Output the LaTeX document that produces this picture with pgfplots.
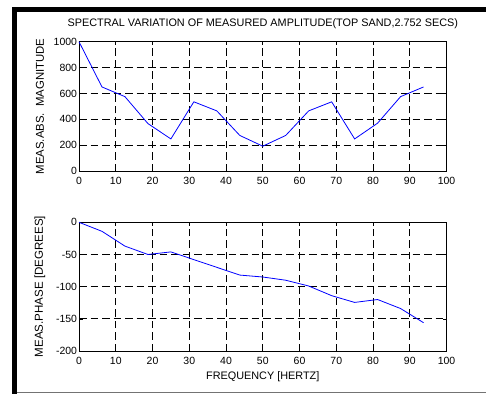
\documentclass[border=0pt]{standalone}
\usepackage{pgfplots}
\pgfplotsset{compat=1.18}
\usepackage{fontspec}
\setmainfont{Liberation Sans}

\pgfplotsset{
  scope panel/.style={
    scale only axis,
    width=367.5bp,
    xmin=0, xmax=100,
    xtick={0,10,...,100},
    tick align=inside,
    major tick length=3.5bp,
    tick style={black, line width=0.6bp},
    axis line style={black, line width=1bp},
    grid=major,
    major grid style={black, line width=0.7bp, dash pattern=on 7.5bp off 4bp},
    /pgf/number format/assume math mode=true,
    /pgf/number format/1000 sep={},
    ticklabel style={font=\fontsize{10.5}{12}\selectfont},
    yticklabel style={inner sep=0pt, xshift=-1.8bp},
    xticklabel style={inner sep=0pt, yshift=-5.5bp},
    label style={font=\fontsize{10.9}{13}\selectfont},
    clip=false,
  },
  spectrum/.style={blue!100!black, line width=0.8bp, mark=none},
}

\begin{document}
\begin{tikzpicture}[x=1bp, y=1bp]
  \useasboundingbox (0,0) rectangle (486,394);
  \fill[white] (0,0) rectangle (486,394);
  % window frame
  \fill[black] (11.7,0) rectangle (17,386.7);
  \fill[black] (11.7,381.7) rectangle (486,386.7);
  \fill[black!55] (17,0.8) rectangle (486,2.2);

  % magnitude panel
  \begin{axis}[scope panel,
      at={(79bp,223bp)}, anchor=south west,
      height=129.3bp,
      ymin=0, ymax=1000,
      ytick={0,200,...,1000},
      title={SPECTRAL VARIATION OF MEASURED AMPLITUDE(TOP SAND,2.752 SECS)},
      title style={font=\fontsize{10.9}{13}\selectfont, at={(axis description cs:0.5,1)}, anchor=base, yshift=9.2bp, inner sep=0pt},
      ylabel={MEAS.ABS.\ \ MAGNITUDE},
      ylabel style={font=\fontsize{11.4}{13}\selectfont, at={(axis description cs:-0.1061,0.5)}, anchor=center, inner sep=0pt},
    ]
    \addplot[spectrum] coordinates {
      (0,1000) (6.25,650) (12.5,575) (18.75,367) (25,248) (31.25,535)
      (37.5,465) (43.75,275) (50,192) (56.25,275) (62.5,465) (68.75,535)
      (75,248) (81.25,370) (87.5,575) (93.75,650)
    };
  \end{axis}

  % phase panel
  \begin{axis}[scope panel,
      at={(79bp,43bp)}, anchor=south west,
      height=128.7bp,
      ymin=-200, ymax=0,
      ytick={-200,-150,...,0},
      xlabel={FREQUENCY [HERTZ]},
      xlabel style={at={(axis description cs:0.5,-0.2)}, anchor=center, inner sep=0pt},
      ylabel={MEAS.PHASE [DEGREES]},
      ylabel style={font=\fontsize{11.6}{13}\selectfont, at={(axis description cs:-0.1061,0.5)}, anchor=center, inner sep=0pt},
    ]
    \addplot[spectrum] coordinates {
      (0,0) (6.25,-14) (12.5,-37) (18.75,-50) (25,-46) (31.25,-58)
      (37.5,-70) (43.75,-82) (50,-85) (56.25,-90) (62.5,-99) (68.75,-114)
      (75,-124.5) (81.25,-120) (87.5,-134) (93.75,-156)
    };
  \end{axis}
\end{tikzpicture}
\end{document}
